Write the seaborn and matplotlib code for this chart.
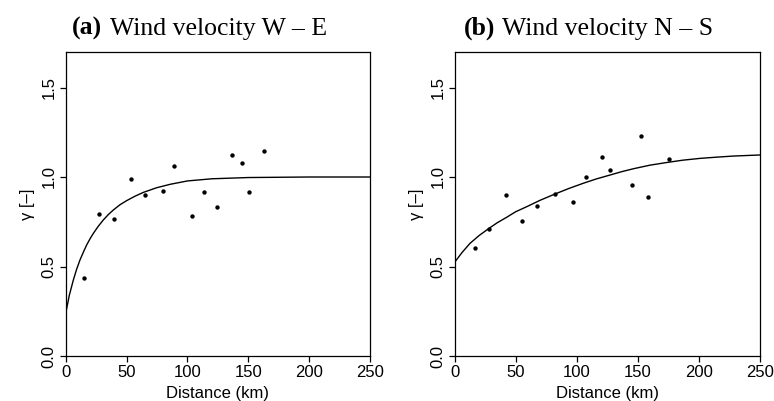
import numpy as np
import pandas as pd
import matplotlib
matplotlib.use('Agg')
import matplotlib.pyplot as plt
import seaborn as sns

# (a) W-E : empirical semivariogram points
we_dist = [15.1, 27.4, 39.4, 53.9, 64.9, 80.0, 88.7, 104.1, 113.6, 124.6, 136.4, 145.1, 150.6, 162.9]
we_gamma = [0.438, 0.795, 0.765, 0.991, 0.901, 0.924, 1.063, 0.784, 0.916, 0.834, 1.125, 1.080, 0.916, 1.147]
# fitted model curve
we_fit_x = [0, 3, 6.3, 9, 11.7, 14.5, 17.2, 20, 22.7, 26.8, 30.9, 35, 39.2, 44.6, 50.1, 57, 63.8, 74.7, 85.7, 100, 120, 150, 200, 250]
we_fit_y = [0.238, 0.34, 0.425, 0.485, 0.536, 0.58, 0.620, 0.655, 0.685, 0.725, 0.760, 0.790, 0.816, 0.845, 0.868, 0.893, 0.914, 0.940, 0.959, 0.978, 0.990, 0.997, 1.0, 1.0]

# (b) N-S
ns_dist = [16.7, 28.1, 42.3, 54.9, 67.8, 82.2, 97.3, 107.4, 120.5, 127.0, 145.6, 152.7, 158.2, 175.9]
ns_gamma = [0.605, 0.711, 0.901, 0.756, 0.840, 0.907, 0.862, 1.002, 1.114, 1.041, 0.957, 1.231, 0.890, 1.102]
ns_fit_x = [0, 6, 12.5, 20, 28.1, 35, 42.6, 50, 59.0, 70, 82.2, 94, 105.4, 116, 127.3, 137, 146.4, 160, 173.8, 187, 201.1, 215, 228.4, 250]
ns_fit_y = [0.524, 0.578, 0.629, 0.673, 0.713, 0.745, 0.775, 0.806, 0.834, 0.870, 0.905, 0.937, 0.965, 0.989, 1.011, 1.030, 1.046, 1.066, 1.081, 1.094, 1.104, 1.111, 1.117, 1.123]

x_ticks = [0, 50, 100, 150, 200, 250]
y_ticks = [0.0, 0.5, 1.0, 1.5]
y_ticklabels = ['0.0', '0.5', '1.0', '1.5']

panels = [
    ('(a)', 'Wind velocity W \u2013 E', we_dist, we_gamma, we_fit_x, we_fit_y),
    ('(b)', 'Wind velocity N \u2013 S', ns_dist, ns_gamma, ns_fit_x, ns_fit_y),
]

sns.set_style("ticks")
plt.rcParams['font.family'] = ['Liberation Sans', 'DejaVu Sans']
plt.rcParams['text.color'] = 'black'
plt.rcParams['axes.labelcolor'] = 'black'
plt.rcParams['xtick.color'] = 'black'
plt.rcParams['ytick.color'] = 'black'
plt.rcParams['xtick.major.size'] = 4.5
plt.rcParams['ytick.major.size'] = 4.5

W, H = 774, 401
fig = plt.figure(figsize=(W / 100, H / 100), dpi=100)
# axes positions in pixels: left, right
ax_px = [(65.7, 370.0), (454.7, 759.7)]
title_left = [72, 464]
title_word = [110, 502]
top_px, bot_px = 51.7, 356.0

for i, (tag, name, dx, dy, fx, fy) in enumerate(panels):
    l, r = ax_px[i]
    ax = fig.add_axes([l / W, 1 - bot_px / H, (r - l) / W, (bot_px - top_px) / H])
    df_pts = pd.DataFrame({'dist': dx, 'gamma': dy})
    df_fit = pd.DataFrame({'dist': fx, 'gamma': fy})
    sns.lineplot(data=df_fit, x='dist', y='gamma', ax=ax, color='black', linewidth=1.0)
    sns.scatterplot(data=df_pts, x='dist', y='gamma', ax=ax, color='black', s=10,
                    edgecolor='black', linewidth=0)
    ax.set_xlim(0, 250)
    ax.set_ylim(0, 1.7)
    ax.set_xticks(x_ticks)
    ax.set_xticklabels([str(t) for t in x_ticks], fontsize=12)
    ax.set_yticks(y_ticks)
    ax.set_yticklabels(y_ticklabels, fontsize=12, rotation=90, va='center')
    for s in ax.spines.values():
        s.set_visible(True)
        s.set_color('black')
        s.set_linewidth(0.9)
    ax.tick_params(colors='black', width=0.9, pad=2)
    ax.set_xlabel('Distance (km)', fontsize=12, labelpad=4)
    ax.set_ylabel('\u03b3 [\u2013]', fontsize=12, labelpad=5)

    fig.text(title_left[i] / W, 1 - 35 / H, tag, fontsize=18.5, fontweight='bold',
             family=['Liberation Serif', 'DejaVu Serif'], ha='left', va='baseline')
    fig.text(title_word[i] / W, 1 - 35 / H, name, fontsize=18.5,
             family=['Liberation Serif', 'DejaVu Serif'], ha='left', va='baseline')

plt.savefig('out.png', dpi=100)
